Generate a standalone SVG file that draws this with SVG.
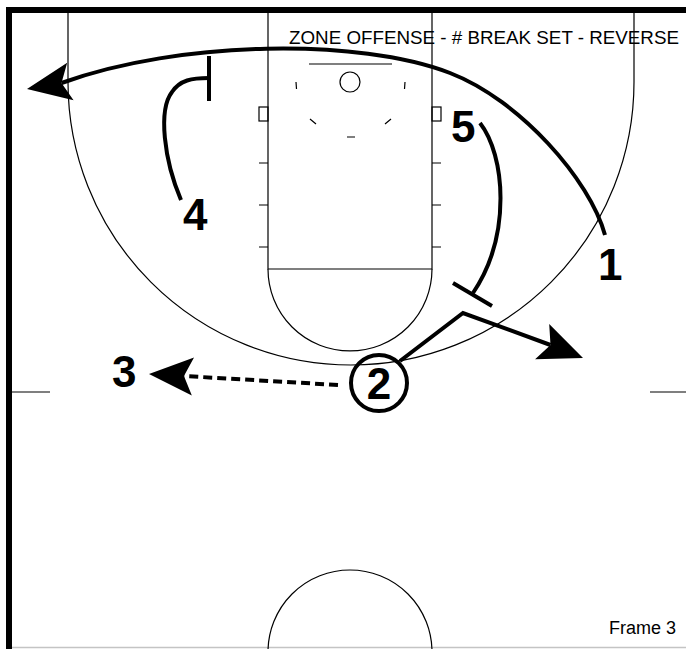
<svg xmlns="http://www.w3.org/2000/svg" xmlns:xlink="http://www.w3.org/1999/xlink" width="686" height="649" viewBox="0 0 686 649">
<style>
.court{fill:none;stroke:#000;stroke-width:1.2}
.move{fill:none;stroke:#000;stroke-width:4;stroke-linecap:butt;stroke-linejoin:miter}
.pass{fill:none;stroke:#000;stroke-width:4;stroke-dasharray:9,5}
.num{font-family:"Liberation Sans",Arial,sans-serif;font-weight:bold;font-size:44px;fill:#000}
.lbl{font-family:"Liberation Sans",Arial,sans-serif;font-size:18px;fill:#000}
</style>
<defs>
<path id="ah" d="M0,0 L-44,-19 L-35,0 L-44,19 Z" fill="#000"/>
</defs>
<rect width="686" height="649" fill="#fff"/>
<g id="court">
<line x1="6" y1="10" x2="686" y2="10" stroke="#000" stroke-width="6"/>
<line x1="9" y1="7" x2="9" y2="649" stroke="#000" stroke-width="6"/>
<line x1="12" y1="647.5" x2="686" y2="647.5" stroke="#c4c4c4" stroke-width="1.5"/>
<path class="court" d="M68,13 V82 A283,283 0 0 0 634,82 V13"/>
<path class="court" d="M268,13 V269 H432 V13"/>
<path class="court" d="M268,269 A82,82 0 0 0 432,269"/>
<path class="court" d="M259,163 H268 M259,205 H268 M259,247 H268 M432,163 H441 M432,205 H441 M432,247 H441"/>
<rect class="court" x="259" y="107" width="9" height="14"/>
<rect class="court" x="432" y="107" width="9" height="14"/>
<line class="court" x1="309" y1="64" x2="392" y2="64"/>
<circle class="court" cx="350" cy="82" r="10"/>
<path class="court" d="M296,82 L296.5,89 M405,82 L404.5,89 M310,119 L316,124 M391,119 L385,124 M347,137 H355"/>
<path class="court" d="M12,392 H50 M650,392 H686"/>
<circle class="court" cx="350" cy="652" r="82"/>
</g>
<g id="title"><text class="lbl" x="289" y="44" font-size="18.8" style="font-size:18.8px">ZONE OFFENSE - # BREAK SET - REVERSE</text></g>
<g id="frame"><text class="lbl" x="609" y="634">Frame 3</text></g>
<g id="connectors">
<path class="move" d="M605,235 C590,180 520,100 450,73 C360,38 180,40 61.5,83"/>
<use xlink:href="#ah" href="#ah" transform="translate(27,89) rotate(170.3)"/>
<path class="move" d="M181,200 C164,160 158,110 172,92 C180,80 192,78 209,78"/>
<path class="move" d="M209,56 V101"/>
<path class="move" d="M480,123 C505,155 512,235 473,293"/>
<path class="move" d="M453,283 L492,306"/>
<path class="move" d="M400,361 L463,313 L550.5,345"/>
<use xlink:href="#ah" href="#ah" transform="translate(583,358) rotate(21.8)"/>
<path class="pass" d="M338,385 L184,376"/>
<use xlink:href="#ah" href="#ah" transform="translate(149,374) rotate(183.3)"/>
</g>
<g id="player1"><text class="num" x="598" y="280">1</text></g>
<g id="player2"><circle cx="379" cy="383" r="28" fill="none" stroke="#000" stroke-width="4"/><text class="num" x="379" y="399" text-anchor="middle">2</text></g>
<g id="player3"><text class="num" x="112" y="387">3</text></g>
<g id="player4"><text class="num" x="183" y="230">4</text></g>
<g id="player5"><text class="num" x="451" y="142">5</text></g>
</svg>
